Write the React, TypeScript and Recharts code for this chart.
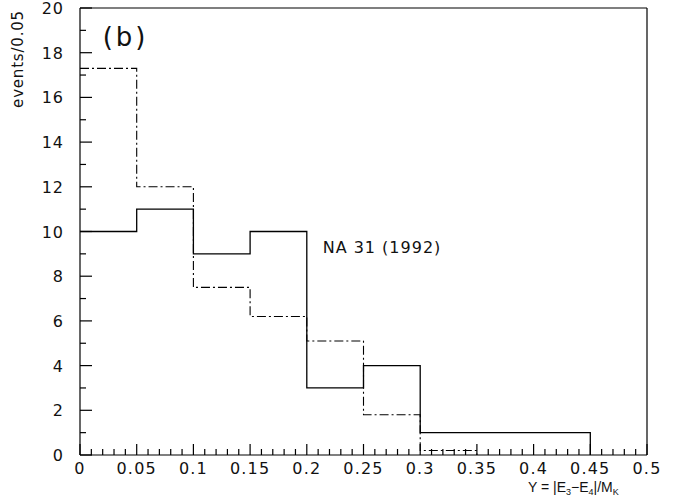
import { Line, LineChart, ReferenceDot, ReferenceLine, XAxis, YAxis } from "recharts";

// bin edges and contents (events per 0.05 bin)
const binEdges = [0, 0.05, 0.1, 0.15, 0.2, 0.25, 0.3, 0.35, 0.4, 0.45, 0.5];
const na31Solid = [10, 11, 9, 10, 3, 4, 1, 1, 1];
const mcDashed = [17.3, 12, 7.5, 6.2, 5.1, 1.8, 0.2];

const xMajorTicks = [0, 0.05, 0.1, 0.15, 0.2, 0.25, 0.3, 0.35, 0.4, 0.45, 0.5];
const yMajorTicks = [0, 2, 4, 6, 8, 10, 12, 14, 16, 18, 20];

const FONT = "'DejaVu Sans', sans-serif";
const NARROW = "'Liberation Sans', Arial, sans-serif";

// each minor step between majors gets a short tick
function withMinors(majors: number[], parts: number) {
  const out: number[] = [];
  majors.forEach((m, i) => {
    out.push(m);
    const next = majors[i + 1];
    if (next === undefined) return;
    for (let k = 1; k < parts; k++) out.push(+(m + ((next - m) * k) / parts).toFixed(4));
  });
  return out;
}

const xTicks = withMinors(xMajorTicks, 5);
const yTicks = withMinors(yMajorTicks, 2);

// step histogram: value holds until next edge, drops to 0 after last bin
function stepSeries(vals: number[]) {
  return binEdges.map((_, i) => (i < vals.length ? vals[i] : i === vals.length ? 0 : null));
}

const solidPts = stepSeries(na31Solid);
const dashedPts = stepSeries(mcDashed);
const data = binEdges.map((x, i) => ({ x, solid: solidPts[i], dashed: dashedPts[i] }));

const isMajor = (v: number, list: number[]) => list.some((m) => Math.abs(m - v) < 1e-6);

function XTick(props: any) {
  const { x, y, payload } = props;
  const major = isMajor(payload.value, xMajorTicks);
  return (
    <g>
      <line x1={x} x2={x} y1={y} y2={y - (major ? 11 : 6)} stroke="#000" strokeWidth={1.2} />
      {major && (
        <text x={x} y={y + 19} textAnchor="middle" fontSize={16} fontFamily={FONT} letterSpacing={1.2} fill="#111">
          {String(Number(payload.value.toFixed(2)))}
        </text>
      )}
    </g>
  );
}

function YTick(props: any) {
  const { x, y, payload } = props;
  const major = isMajor(payload.value, yMajorTicks);
  return (
    <g>
      <line x1={x} x2={x + (major ? 12 : 6)} y1={y} y2={y} stroke="#000" strokeWidth={1.2} />
      {major && (
        <text x={x - 16} y={y + 6} textAnchor="end" fontSize={16} fontFamily={FONT} letterSpacing={1} fill="#111">
          {payload.value}
        </text>
      )}
    </g>
  );
}

export default function App() {
  return (
    <div style={{ position: "absolute", left: 0, top: 0, background: "#fff" }}>
      <LineChart width={681} height={499} data={data} margin={{ top: 8, right: 34, bottom: 14, left: 20 }}>
        <XAxis
          dataKey="x"
          type="number"
          domain={[0, 0.5]}
          ticks={xTicks}
          interval={0}
          tickSize={0}
          tickMargin={0}
          tickLine={false}
          tick={<XTick />}
          axisLine={{ stroke: "#000", strokeWidth: 1.2 }}
          label={{
            content: () => (
              <text x={528} y={492} fontSize={14} fontFamily={NARROW} fill="#111">
                Y = |E
                <tspan fontSize={9} dy={3}>3</tspan>
                <tspan dy={-3}>−E</tspan>
                <tspan fontSize={9} dy={3}>4</tspan>
                <tspan dy={-3}>|/M</tspan>
                <tspan fontSize={9} dy={3}>K</tspan>
              </text>
            ),
          }}
        />
        <YAxis
          type="number"
          domain={[0, 20]}
          ticks={yTicks}
          interval={0}
          tickSize={0}
          tickMargin={0}
          tickLine={false}
          tick={<YTick />}
          axisLine={{ stroke: "#000", strokeWidth: 1.2 }}
          label={{
            content: () => (
              <text
                x={18}
                y={59}
                transform="rotate(-90 18 59)"
                textAnchor="middle"
                dominantBaseline="central"
                fontSize={15}
                fontFamily={FONT}
                letterSpacing={0.8}
                fill="#111"
              >
                events/0.05
              </text>
            ),
          }}
        />
        <ReferenceLine y={20} stroke="#000" strokeWidth={1.2} />
        <ReferenceLine x={0.5} stroke="#000" strokeWidth={1.2} />
        <Line
          dataKey="dashed"
          type="stepAfter"
          stroke="#000"
          strokeWidth={1.1}
          strokeDasharray="9 3 2 3"
          dot={false}
          isAnimationActive={false}
        />
        <Line dataKey="solid" type="stepAfter" stroke="#000" strokeWidth={1.3} dot={false} isAnimationActive={false} />
        <ReferenceDot
          x={0.02}
          y={18.3}
          r={0}
          fill="none"
          stroke="none"
          label={{
            content: ({ viewBox }: any) => (
              <text x={viewBox.x} y={viewBox.y} fontSize={26} fontFamily={FONT} letterSpacing={3} fill="#111">
                (b)
              </text>
            ),
          }}
        />
        <ReferenceDot
          x={0.214}
          y={9.05}
          r={0}
          fill="none"
          stroke="none"
          label={{
            content: ({ viewBox }: any) => (
              <text x={viewBox.x} y={viewBox.y} fontSize={16} fontFamily={FONT} letterSpacing={1} fill="#111">
                NA 31 (1992)
              </text>
            ),
          }}
        />
      </LineChart>
    </div>
  );
}
